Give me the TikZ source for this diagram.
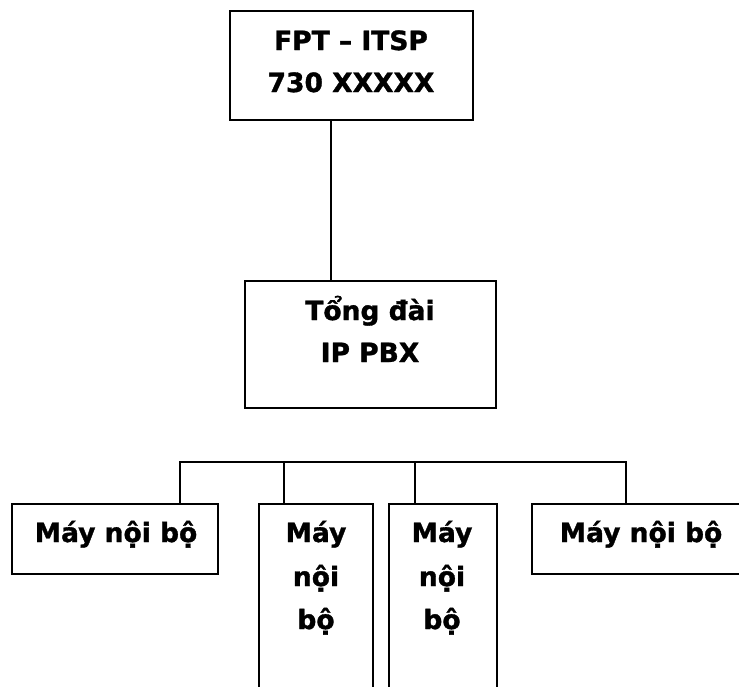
\documentclass[tikz,border=0pt]{standalone}
\usepackage{fontspec}
\setmainfont{DejaVu Sans}[BoldFeatures={FakeBold=1.3}]
\begin{document}
\begin{tikzpicture}[x=1pt,y=-1pt,
  box/.style={draw=black,line width=1.9pt,rectangle,inner sep=0pt,anchor=north west},
  lbl/.style={anchor=base,inner sep=0pt,font=\fontsize{26.5}{43}\selectfont\bfseries},
  wire/.style={draw=black,line width=1.6pt}]
\useasboundingbox (0,0) rectangle (739,686);
\clip (0,0) rectangle (739,686);
\fill[white] (0,0) rectangle (739,686);
% boxes
\node[box,minimum width=243pt,minimum height=109pt] (top) at (229,10) {};
\node[box,minimum width=251pt,minimum height=127pt] (mid) at (244,280) {};
\node[box,minimum width=206pt,minimum height=70pt] (b1) at (11,503) {};
\node[box,minimum width=114pt,minimum height=230pt] (b2) at (258,503) {};
\node[box,minimum width=108pt,minimum height=230pt] (b3) at (388,503) {};
\node[box,minimum width=230pt,minimum height=70pt] (b4) at (531,503) {};
% texts
\node[lbl] (t1) at (351,50) {FPT – ITSP};
\node[lbl] (t2) at (351,92) {730 XXXXX};
\node[lbl] (m1) at (370,320) {Tổng đài};
\node[lbl] (m2) at (370,362) {IP PBX};
\node[lbl] (p1) at (116,542) {Máy nội bộ};
\node[lbl] (q1) at (316,542) {Máy};
\node[lbl] (q2) at (316,586) {nội};
\node[lbl] (q3) at (316,629) {bộ};
\node[lbl] (r1) at (442,542) {Máy};
\node[lbl] (r2) at (442,586) {nội};
\node[lbl] (r3) at (442,629) {bộ};
\node[lbl] (s1) at (641,542) {Máy nội bộ};
% connectors
\coordinate (c0) at (331,119);
\coordinate (busL) at (180,462);
\coordinate (d2) at (284,462);
\coordinate (d3) at (415,462);
\coordinate (busR) at (626,462);
\draw[wire] (top.south -| c0) -- (mid.north -| c0);
\draw[wire] (b1.north -| busL) -- (busL) -- (busR) -- (b4.north -| busR);
\draw[wire] (d2) -- (b2.north -| d2);
\draw[wire] (d3) -- (b3.north -| d3);
\end{tikzpicture}
\end{document}
